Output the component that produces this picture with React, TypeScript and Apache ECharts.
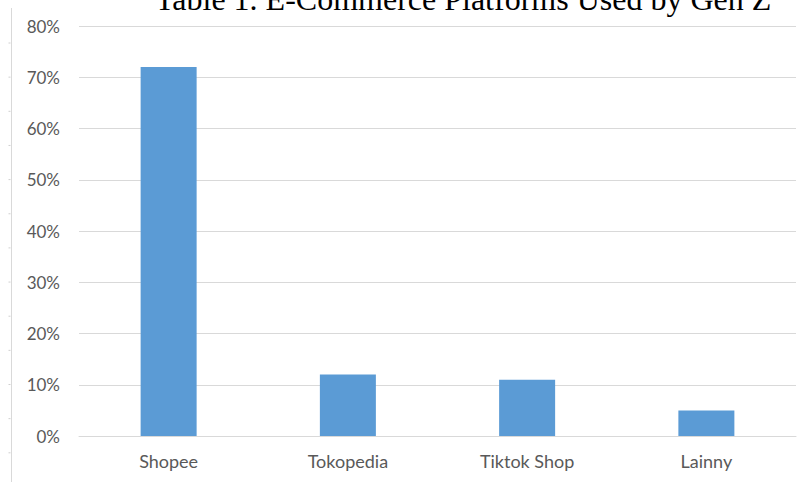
import React, { useEffect, useRef } from "react";
import * as echarts from "echarts";

const categories = ["Shopee", "Tokopedia", "Tiktok Shop", "Lainny"];
const shares = [72, 12, 11, 5];
const titleText = "Table 1. E-Commerce Platforms Used by Gen Z";
const yMin = 0;
const yMax = 80;
const yInterval = 10;

export default function App() {
  const ref = useRef<HTMLDivElement>(null);
  useEffect(() => {
    if (!ref.current) return;
    const chart = echarts.init(ref.current, null, { renderer: "svg" });
    const rulerTicks: any[] = [];
    for (let i = 0; i < 13; i++) {
      const y = 43 + i * 34.15;
      rulerTicks.push({
        type: "line",
        shape: { x1: 8.5, y1: y, x2: 10.5, y2: y },
        style: { stroke: "#d0d0d0", lineWidth: 1 },
        silent: true,
      });
    }
    chart.setOption({
      animation: false,
      backgroundColor: "#ffffff",
      grid: { left: 79, right: 1, top: 26, bottom: 46, containLabel: false },
      xAxis: {
        type: "category",
        data: categories,
        axisLine: { show: true, lineStyle: { color: "#d9d9d9", width: 1 } },
        axisTick: { show: false },
        axisLabel: {
          color: "#595959",
          fontFamily: "Lato",
          fontSize: 18,
          margin: 16,
        },
      },
      yAxis: {
        type: "value",
        min: yMin,
        max: yMax,
        interval: yInterval,
        axisLine: { show: false },
        axisTick: { show: false },
        splitLine: { lineStyle: { color: "#d9d9d9", width: 1 } },
        axisLabel: {
          formatter: "{value}%",
          color: "#595959",
          fontFamily: "Lato",
          fontSize: 17,
          margin: 19,
        },
      },
      series: [
        {
          type: "bar",
          data: shares,
          barWidth: 56,
          itemStyle: { color: "#5B9BD5" },
        },
      ],
      graphic: [
        {
          type: "line",
          shape: { x1: 11.5, y1: 8, x2: 11.5, y2: 482 },
          style: { stroke: "#d9d9d9", lineWidth: 1 },
          silent: true,
        },
        ...rulerTicks,
        {
          type: "text",
          x: 155,
          y: -1,
          style: {
            text: titleText,
            fontFamily: "Liberation Serif",
            fontSize: 32,
            fill: "#000000",
            textAlign: "left",
            textVerticalAlign: "middle",
          },
          silent: true,
        },
      ],
    });
    return () => chart.dispose();
  }, []);
  return (
    <div
      ref={ref}
      style={{ position: "fixed", left: 0, top: 0, width: 797, height: 482 }}
    />
  );
}
